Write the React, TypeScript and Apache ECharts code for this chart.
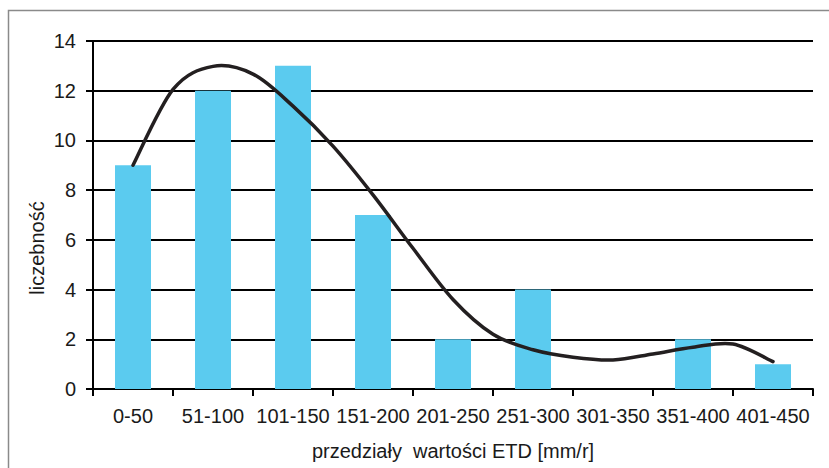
import React, { useEffect, useRef } from "react";
import * as echarts from "echarts";

const categories = ["0-50", "51-100", "101-150", "151-200", "201-250", "251-300", "301-350", "351-400", "401-450"];
const counts = [9, 12, 13, 7, 2, 4, 0, 2, 1];
// trend curve: [position in category units, value]
const curveX = [0.5, 1.0, 1.5, 2.0, 2.5, 3.0, 3.5, 4.0, 4.5, 5.0, 5.5, 6.0, 6.5, 7.0, 7.5, 8.0, 8.5];
const curveY = [9.0, 12.05, 12.98, 12.67, 11.38, 9.77, 7.81, 5.66, 3.6, 2.2, 1.58, 1.28, 1.17, 1.41, 1.68, 1.81, 1.1];
const yTicks = { min: 0, max: 14, interval: 2 };
const xName = "przedziały  wartości ETD [mm/r]";
const yName = "liczebność";

const FONT = "'Liberation Sans', Arial, sans-serif";
const INK = "#1a1a1a";

export default function App() {
  const ref = useRef<HTMLDivElement>(null);
  useEffect(() => {
    if (!ref.current) return;
    const chart = echarts.init(ref.current, null, { renderer: "svg" });
    const curveData = curveX.map((x, i) => [x, curveY[i]]);
    chart.setOption({
      animation: false,
      backgroundColor: "#ffffff",
      textStyle: { fontFamily: FONT },
      graphic: [
        {
          type: "rect",
          shape: { x: 8.5, y: 10.5, width: 840, height: 480 },
          style: { fill: "none", stroke: "#8a8a8a", lineWidth: 1.5 },
          silent: true,
          z: -1,
        },
        {
          type: "text",
          x: 37,
          y: 248,
          rotation: Math.PI / 2,
          style: {
            text: yName,
            font: `20px ${FONT}`,
            fill: INK,
            align: "center",
            verticalAlign: "middle",
          },
        },
      ],
      grid: { left: 93, top: 41, right: 16, bottom: 79, containLabel: false, outerBoundsMode: "none" },
      xAxis: [
        {
          type: "category",
          data: categories,
          boundaryGap: true,
          name: xName,
          nameLocation: "middle",
          nameGap: 52,
          nameTextStyle: { fontSize: 20, color: INK, fontFamily: FONT },
          axisLine: { lineStyle: { color: "#000", width: 2 } },
          axisTick: { show: true, alignWithLabel: false, length: 7, lineStyle: { color: "#000", width: 2 } },
          axisLabel: { fontSize: 20, color: INK, margin: 17, interval: 0, fontFamily: FONT },
          splitLine: { show: false },
        },
        {
          type: "value",
          min: 0,
          max: 9,
          show: false,
          splitLine: { show: false },
        },
      ],
      yAxis: {
        type: "value",
        min: yTicks.min,
        max: yTicks.max,
        interval: yTicks.interval,
        axisLine: { show: true, lineStyle: { color: "#000", width: 2 } },
        axisTick: { show: true, length: 7, lineStyle: { color: "#000", width: 2 } },
        axisLabel: { fontSize: 20, color: INK, margin: 17, fontFamily: FONT },
        splitLine: { show: true, lineStyle: { color: "#000", width: 2 } },
      },
      series: [
        {
          type: "bar",
          xAxisIndex: 0,
          data: counts,
          barWidth: 36,
          itemStyle: { color: "#5bcbef" },
          z: 2,
        },
        {
          type: "custom",
          coordinateSystem: "cartesian2d",
          xAxisIndex: 1,
          yAxisIndex: 0,
          data: curveData,
          encode: { x: 0, y: 1 },
          z: 3,
          renderItem: (params: any, api: any) => {
            if (params.dataIndex !== 0) return null;
            const pts = curveData.map((d) => api.coord(d));
            const n = pts.length;
            let d = `M${pts[0][0]},${pts[0][1]}`;
            for (let i = 0; i < n - 1; i++) {
              const p0 = pts[Math.max(0, i - 1)];
              const p1 = pts[i];
              const p2 = pts[i + 1];
              const p3 = pts[Math.min(n - 1, i + 2)];
              const c1x = p1[0] + (p2[0] - p0[0]) / 6;
              const c1y = p1[1] + (p2[1] - p0[1]) / 6;
              const c2x = p2[0] - (p3[0] - p1[0]) / 6;
              const c2y = p2[1] - (p3[1] - p1[1]) / 6;
              d += ` C${c1x},${c1y} ${c2x},${c2y} ${p2[0]},${p2[1]}`;
            }
            return {
              type: "path",
              shape: { pathData: d },
              style: { fill: "none", stroke: "#231f20", lineWidth: 3.5, lineCap: "round" },
              silent: true,
            };
          },
        },
      ],
    });
    return () => chart.dispose();
  }, []);
  return <div ref={ref} style={{ width: 829, height: 468, position: "absolute", left: 0, top: 0 }} />;
}
